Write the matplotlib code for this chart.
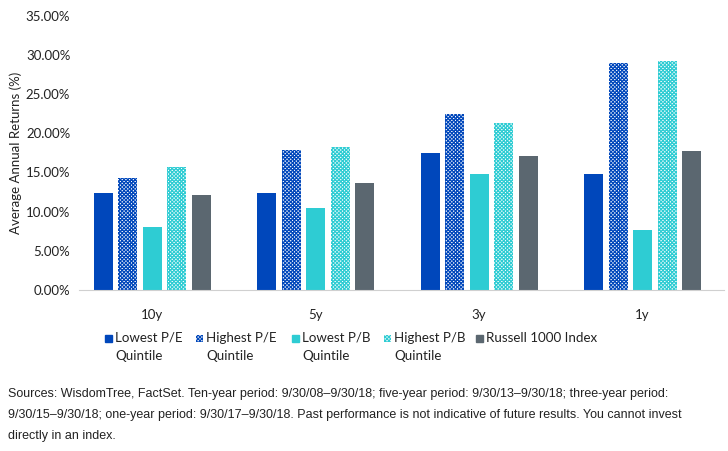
import matplotlib
matplotlib.use('Agg')
import matplotlib.pyplot as plt
import numpy as np
from matplotlib.patches import Rectangle
from matplotlib.ticker import FuncFormatter

periods = ['10y', '5y', '3y', '1y']
series_names = ['Lowest P/E\nQuintile', 'Highest P/E\nQuintile', 'Lowest P/B\nQuintile',
                'Highest P/B\nQuintile', 'Russell 1000 Index']
lowest_pe = [12.4, 12.4, 17.5, 14.8]
highest_pe = [14.3, 17.9, 22.5, 29.0]
lowest_pb = [8.1, 10.5, 14.8, 7.6]
highest_pb = [15.7, 18.3, 21.3, 29.2]
russell = [12.1, 13.7, 17.1, 17.8]

footnote = ("Sources: WisdomTree, FactSet. Ten-year period: 9/30/08\u20139/30/18; five-year period: 9/30/13\u20139/30/18; three-year period:\n"
            "9/30/15\u20139/30/18; one-year period: 9/30/17\u20139/30/18. Past performance is not indicative of future results. You cannot invest\n"
            "directly in an index.")

plt.rcParams['font.family'] = ['Lato', 'DejaVu Sans']
plt.rcParams['hatch.linewidth'] = 0.9

dark_blue = '#0047BB'
teal = '#2ECCD3'
grey = '#5B6770'
hatch = 'xxxxxxxxx'
styles = [
    dict(color=dark_blue),
    dict(facecolor='white', edgecolor=dark_blue, hatch=hatch, linewidth=0),
    dict(color=teal),
    dict(facecolor='white', edgecolor=teal, hatch=hatch, linewidth=0),
    dict(color=grey),
]
values = [lowest_pe, highest_pe, lowest_pb, highest_pb, russell]

W, H = 728, 451
fig = plt.figure(figsize=(W / 100, H / 100), dpi=100)
ax = fig.add_axes([0.108, 0.357, 0.887, 0.608])

x = np.arange(len(periods))
step = 0.15
width = 0.117
for i, (vals, st) in enumerate(zip(values, styles)):
    ax.bar(x + (i - 2) * step, vals, width, **st)

ax.set_xlim(-0.45, 3.5)
ax.set_ylim(0, 35)
ax.set_yticks(np.arange(0, 36, 5))
ax.yaxis.set_major_formatter(FuncFormatter(lambda v, p: f'{v:.2f}%'))
ax.set_xticks(x)
ax.set_xticklabels(periods)
ax.tick_params(axis='both', length=0, labelsize=9.5, colors='#222222')
ax.tick_params(axis='x', pad=14)
ax.tick_params(axis='y', pad=6)
for s in ['top', 'right', 'left']:
    ax.spines[s].set_visible(False)
ax.spines['bottom'].set_color('#D0D0D0')
ax.set_ylabel('Average Annual Returns (%)', fontsize=9.5, color='#222222', labelpad=3)

# legend drawn by hand so the swatch sits on the first text line
marker_px = [105, 196, 292, 384, 476]
for px, name, st in zip(marker_px, series_names, styles):
    fig.add_artist(Rectangle((px / W, 1 - 342 / H), 7 / W, 7 / H,
                             transform=fig.transFigure, **st))
    fig.text((px + 10) / W, 1 - 332 / H, name, fontsize=9.6, color='#222222',
             va='top', ha='left', linespacing=1.55)

fig.text(0.011, 0.14, footnote, fontsize=9, color='#222222', va='top',
         linespacing=2.0, family=['Liberation Sans Narrow', 'Liberation Sans', 'DejaVu Sans'])

fig.savefig('out.png', dpi=100)
